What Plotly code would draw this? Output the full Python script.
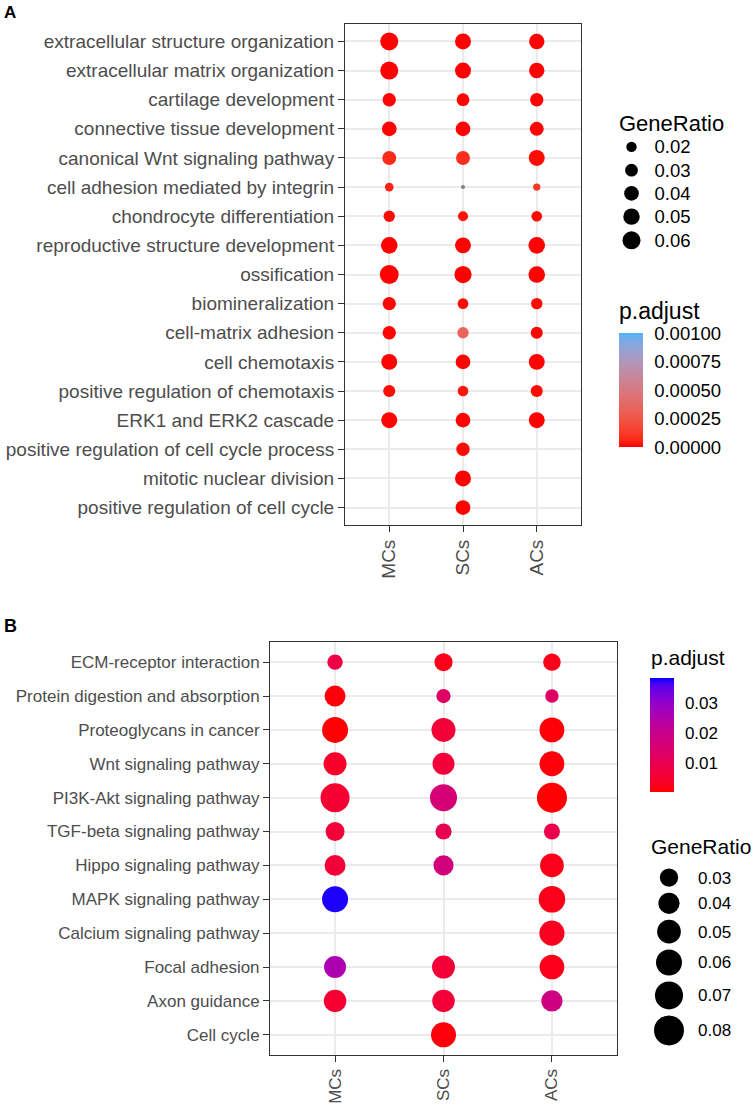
import plotly.graph_objects as go

# ---------------- data ----------------
groups = ["MCs", "SCs", "ACs"]

terms_A = [
    "extracellular structure organization",
    "extracellular matrix organization",
    "cartilage development",
    "connective tissue development",
    "canonical Wnt signaling pathway",
    "cell adhesion mediated by integrin",
    "chondrocyte differentiation",
    "reproductive structure development",
    "ossification",
    "biomineralization",
    "cell-matrix adhesion",
    "cell chemotaxis",
    "positive regulation of chemotaxis",
    "ERK1 and ERK2 cascade",
    "positive regulation of cell cycle process",
    "mitotic nuclear division",
    "positive regulation of cell cycle",
]
ratio_A_MCs = [0.060, 0.060, 0.033, 0.040, 0.036, 0.014, 0.024, 0.051, 0.066, 0.033, 0.033, 0.047, 0.027, 0.047, None, None, None]
ratio_A_SCs = [0.047, 0.047, 0.030, 0.040, 0.036, 0.003, 0.019, 0.047, 0.055, 0.021, 0.024, 0.040, 0.021, 0.040, 0.033, 0.047, 0.040]
ratio_A_ACs = [0.044, 0.044, 0.033, 0.036, 0.047, 0.010, 0.021, 0.051, 0.051, 0.024, 0.027, 0.047, 0.027, 0.047, None, None, None]
padj_A_MCs = [1e-6, 1e-6, 2e-6, 2e-6, 7e-5, 5e-5, 1e-5, 1e-6, 1e-6, 5e-6, 5e-6, 2e-6, 1e-5, 2e-6, None, None, None]
padj_A_SCs = [1e-6, 1e-6, 3e-6, 2e-6, 8e-5, 1.4e-3, 2e-5, 1e-6, 1e-6, 1e-5, 3.5e-4, 3e-6, 2e-5, 3e-6, 1e-5, 1e-6, 3e-6]
padj_A_ACs = [1e-6, 1e-6, 2e-6, 2e-6, 1e-5, 1.2e-4, 1e-5, 1e-6, 1e-6, 1e-5, 5e-6, 2e-6, 1e-5, 2e-6, None, None, None]
A_ratio_legend = [0.02, 0.03, 0.04, 0.05, 0.06]
A_padj_ticks = [0.0, 0.00025, 0.0005, 0.00075, 0.001]
A_padj_limits = [0.0, 0.001]

terms_B = [
    "ECM-receptor interaction",
    "Protein digestion and absorption",
    "Proteoglycans in cancer",
    "Wnt signaling pathway",
    "PI3K-Akt signaling pathway",
    "TGF-beta signaling pathway",
    "Hippo signaling pathway",
    "MAPK signaling pathway",
    "Calcium signaling pathway",
    "Focal adhesion",
    "Axon guidance",
    "Cell cycle",
]
ratio_B_MCs = [0.021, 0.039, 0.060, 0.047, 0.075, 0.032, 0.039, 0.060, None, 0.043, 0.045, None]
ratio_B_SCs = [0.029, 0.018, 0.051, 0.043, 0.065, 0.023, 0.036, None, None, 0.047, 0.045, 0.056]
ratio_B_ACs = [0.027, 0.016, 0.055, 0.055, 0.080, 0.023, 0.050, 0.063, 0.056, 0.054, 0.040, None]
padj_B_MCs = [0.008, 0.001, 0.0005, 0.004, 0.005, 0.006, 0.006, 0.038, None, 0.026, 0.005, None]
padj_B_SCs = [0.002, 0.013, 0.006, 0.006, 0.016, 0.010, 0.017, None, None, 0.006, 0.006, 0.001]
padj_B_ACs = [0.002, 0.013, 0.0008, 0.001, 0.0005, 0.009, 0.002, 0.002, 0.003, 0.002, 0.018, None]
B_ratio_legend = [0.03, 0.04, 0.05, 0.06, 0.07, 0.08]
B_padj_ticks = [0.01, 0.02, 0.03]
B_padj_limits = [0.0003, 0.0383]

# ---------------- styling helpers ----------------
W, H = 754, 1104
FONT = "Liberation Sans, Arial, Helvetica, sans-serif"
NA_COLOR = "#7F7F7F"
GRID = "#EBEBEB"
BORDER = "#333333"
TICKTXT = "#4D4D4D"


def px_x(x):
    return x / W


def px_y(y):
    return 1 - y / H


def _lin(c):
    c = c / 255.0
    return c / 12.92 if c <= 0.04045 else ((c + 0.055) / 1.055) ** 2.4


def _f(t):
    return t ** (1 / 3) if t > 0.008856 else 7.787 * t + 16 / 116


def hex_to_lab(h):
    h = h.lstrip("#")
    r, g, b = (_lin(int(h[i:i + 2], 16)) for i in (0, 2, 4))
    X = (0.4124 * r + 0.3576 * g + 0.1805 * b) / 0.95047
    Y = 0.2126 * r + 0.7152 * g + 0.0722 * b
    Z = (0.0193 * r + 0.1192 * g + 0.9505 * b) / 1.08883
    fx, fy, fz = _f(X), _f(Y), _f(Z)
    return 116 * fy - 16, 500 * (fx - fy), 200 * (fy - fz)


def lab_to_rgb(L, a, b):
    fy = (L + 16) / 116
    fx = fy + a / 500
    fz = fy - b / 200

    def finv(t):
        return t ** 3 if t ** 3 > 0.008856 else (t - 16 / 116) / 7.787

    X, Y, Z = 0.95047 * finv(fx), finv(fy), 1.08883 * finv(fz)
    rl = 3.2406 * X - 1.5372 * Y - 0.4986 * Z
    gl = -0.9689 * X + 1.8758 * Y + 0.0415 * Z
    bl = 0.0557 * X - 0.2040 * Y + 1.0570 * Z

    def gam(c):
        c = 12.92 * c if c <= 0.0031308 else 1.055 * max(c, 0) ** (1 / 2.4) - 0.055
        return int(round(min(max(c, 0), 1) * 255))

    return "rgb(%d,%d,%d)" % (gam(rl), gam(gl), gam(bl))


def lab_color(lo, hi, t):
    l1, l2 = hex_to_lab(lo), hex_to_lab(hi)
    return lab_to_rgb(*[l1[i] + (l2[i] - l1[i]) * t for i in range(3)])


def lab_scale(lo, hi, n=21):
    return [[i / (n - 1), lab_color(lo, hi, i / (n - 1))] for i in range(n)]


def value_color(v, lims, lo, hi):
    if v < lims[0] or v > lims[1]:
        return NA_COLOR
    return lab_color(lo, hi, (v - lims[0]) / (lims[1] - lims[0]))


A_LO, A_HI = "#FF0000", "#56B1F7"
B_LO, B_HI = "#FF0000", "#0000FF"
A_K = 73.5   # px diameter per sqrt(GeneRatio)
B_K = 106.0


def diam(v, k):
    return k * v ** 0.5


fig = go.Figure()


def add_panel(terms, ratios, padjs, lims, lo, hi, k, xa, ya):
    xs, ys, ss, cs, tx = [], [], [], [], []
    for g, rr, pp in zip(groups, ratios, padjs):
        for t, r, p in zip(terms, rr, pp):
            if r is None:
                continue
            xs.append(g)
            ys.append(t)
            ss.append(diam(r, k))
            cs.append(value_color(p, lims, lo, hi))
            tx.append("GeneRatio=%.3f<br>p.adjust=%.2g" % (r, p))
    fig.add_trace(go.Scatter(
        x=xs, y=ys, mode="markers", xaxis=xa, yaxis=ya, text=tx,
        hoverinfo="text+x+y", cliponaxis=False,
        marker=dict(size=ss, color=cs, line=dict(width=0), opacity=1),
        showlegend=False))


add_panel(terms_A, [ratio_A_MCs, ratio_A_SCs, ratio_A_ACs],
          [padj_A_MCs, padj_A_SCs, padj_A_ACs], A_padj_limits, A_LO, A_HI, A_K, "x", "y")
add_panel(terms_B, [ratio_B_MCs, ratio_B_SCs, ratio_B_ACs],
          [padj_B_MCs, padj_B_SCs, padj_B_ACs], B_padj_limits, B_LO, B_HI, B_K, "x2", "y2")


# colorbars
def add_colorbar(lims, lo, hi, ticks, fmt, x_left, y_top, fs, xa, ya):
    fig.add_trace(go.Scatter(
        x=[None], y=[None], mode="markers", xaxis=xa, yaxis=ya, showlegend=False,
        hoverinfo="skip",
        marker=dict(color=[lims[0]], cmin=lims[0], cmax=lims[1],
                    colorscale=lab_scale(lo, hi), showscale=True,
                    colorbar=dict(
                        x=px_x(x_left), xanchor="left", y=px_y(y_top), yanchor="top",
                        len=114, lenmode="pixels", thickness=24, thicknessmode="pixels",
                        xpad=0, ypad=0, outlinewidth=0,
                        tickvals=ticks, tickformat=fmt, ticks="outside", ticklen=8,
                        tickcolor="rgba(0,0,0,0)",
                        tickfont=dict(family=FONT, size=fs, color="black")))))


add_colorbar(A_padj_limits, A_LO, A_HI, A_padj_ticks, ".5f", 619, 334, 18.5, "x", "y")
add_colorbar(B_padj_limits, B_LO, B_HI, B_padj_ticks, ".2f", 650, 679, 17, "x2", "y2")


# size legends
def add_size_legend(vals, k, key_top, x_center, xa, ya, fs, standoff):
    d = [diam(v, k) for v in vals]
    h = [max(23.3, di + 6) for di in d]
    centers, acc = [], 0.0
    for hi_ in h:
        centers.append(acc + hi_ / 2)
        acc += hi_
    fig.add_trace(go.Scatter(
        x=[0.5] * len(vals), y=centers, mode="markers", xaxis=xa, yaxis=ya,
        hoverinfo="skip", showlegend=False, cliponaxis=False,
        marker=dict(size=d, color="#000000", opacity=1, line=dict(width=0))))
    ax = dict(domain=[px_x(x_center - 12), px_x(x_center + 12)], range=[0, 1],
              visible=False, fixedrange=True)
    ay = dict(domain=[px_y(key_top + acc), px_y(key_top)], range=[acc, 0],
              side="right", tickvals=centers, ticktext=["%.2f" % v for v in vals],
              showgrid=False, zeroline=False, showline=False, ticks="",
              ticklabelstandoff=standoff,
              tickfont=dict(family=FONT, size=fs, color="black"), fixedrange=True)
    return ax, ay


ax3, ay3 = add_size_legend(A_ratio_legend, A_K, 135.5, 631.5, "x3", "y3", 18.5, 10)
ax4, ay4 = add_size_legend(B_ratio_legend, B_K, 867, 669, "x4", "y4", 17, 16)
ay3["anchor"] = "x3"
ax3["anchor"] = "y3"
ay4["anchor"] = "x4"
ax4["anchor"] = "y4"


# ---------------- layout ----------------
def xcat(domain_px, fs, anchor):
    return dict(domain=[px_x(domain_px[0]), px_x(domain_px[1])], type="category",
                categoryorder="array", categoryarray=groups, range=[-0.6, 2.6],
                showgrid=True, gridcolor=GRID, gridwidth=1.5,
                showline=True, linecolor=BORDER, linewidth=1, mirror=True,
                ticks="outside", ticklen=6, tickcolor=BORDER, tickangle=-90,
                tickfont=dict(family=FONT, size=fs, color=TICKTXT),
                zeroline=False, anchor=anchor)


def ycat(terms, domain_px, fs, anchor):
    n = len(terms)
    return dict(domain=[px_y(domain_px[1]), px_y(domain_px[0])], type="category",
                categoryorder="array", categoryarray=terms, range=[n - 0.4, -0.6],
                showgrid=True, gridcolor=GRID, gridwidth=1.5,
                showline=True, linecolor=BORDER, linewidth=1, mirror=True,
                ticks="outside", ticklen=6, tickcolor=BORDER,
                tickfont=dict(family=FONT, size=fs, color=TICKTXT),
                zeroline=False, anchor=anchor)


annotations = [
    dict(text="<b>A</b>", x=px_x(2), y=px_y(13), xanchor="left", yanchor="middle",
         font=dict(family=FONT, size=17, color="black")),
    dict(text="<b>B</b>", x=px_x(2), y=px_y(627), xanchor="left", yanchor="middle",
         font=dict(family=FONT, size=18, color="black")),
    dict(text="GeneRatio", x=px_x(617), y=px_y(124), xanchor="left", yanchor="middle",
         font=dict(family=FONT, size=22, color="black")),
    dict(text="p.adjust", x=px_x(617), y=px_y(312), xanchor="left", yanchor="middle",
         font=dict(family=FONT, size=23, color="black")),
    dict(text="p.adjust", x=px_x(649), y=px_y(659), xanchor="left", yanchor="middle",
         font=dict(family=FONT, size=21, color="black")),
    dict(text="GeneRatio", x=px_x(649), y=px_y(848), xanchor="left", yanchor="middle",
         font=dict(family=FONT, size=21, color="black")),
]
for a in annotations:
    a.update(xref="paper", yref="paper", showarrow=False)

fig.update_layout(
    width=W, height=H, margin=dict(l=0, r=0, t=0, b=0, pad=0),
    paper_bgcolor="white", plot_bgcolor="white",
    font=dict(family=FONT),
    showlegend=False,
    xaxis=xcat((345, 581), 19, "y"),
    yaxis=ycat(terms_A, (24, 526), 19, "x"),
    xaxis2=xcat((270, 617), 17, "y2"),
    yaxis2=ycat(terms_B, (643, 1057), 17, "x2"),
    xaxis3=ax3, yaxis3=ay3, xaxis4=ax4, yaxis4=ay4,
    annotations=annotations,
)

fig.write_html(
    "out.html",
    config={"displayModeBar": False},
    post_script="document.body.style.margin='0px';document.body.style.overflow='hidden';",
)
